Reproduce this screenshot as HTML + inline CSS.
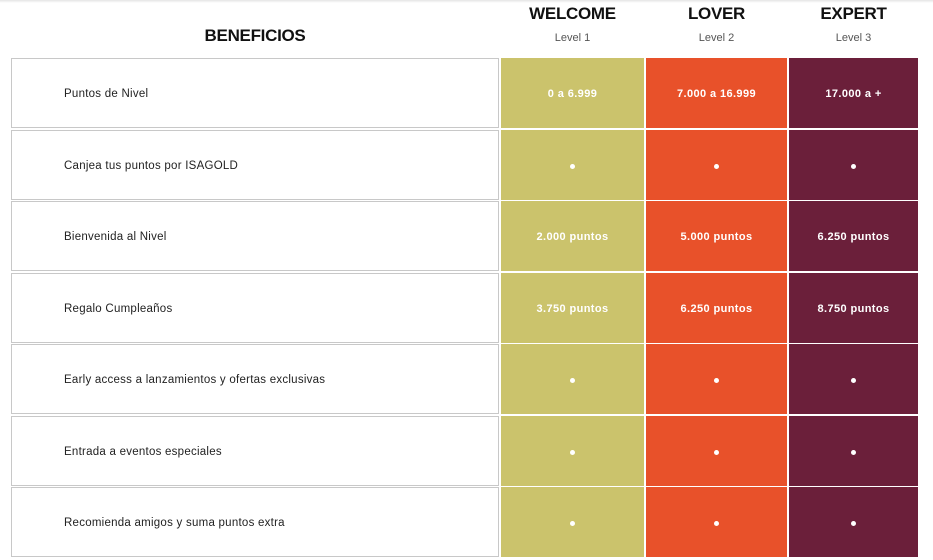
<!DOCTYPE html>
<html><head><meta charset="utf-8"><style>
body{margin:0;width:933px;height:560px;background:#fff;font-family:"Liberation Sans",sans-serif;position:relative;overflow:hidden}
.a{position:absolute}
.top{left:0;top:0;width:933px;height:3px;background:linear-gradient(#e4e4e4,#fff)}
.h{font-weight:bold;font-size:17px;color:#111;text-align:center;letter-spacing:-0.3px}
.lv{font-size:11px;color:#555;text-align:center}
.l{left:11px;width:488px;border:1px solid #c8c8c8;background:#fff;display:flex;align-items:center;font-size:11.5px;letter-spacing:0.25px;color:#222;box-sizing:border-box;padding-left:52px;padding-top:2px}
.c{display:flex;align-items:center;justify-content:center;color:#fff;font-weight:bold;font-size:11px;letter-spacing:.4px;box-sizing:border-box;padding-top:2px}
.w{left:501px;width:143px;background:#cbc36c}
.o{left:646px;width:141px;background:#e8512a}
.e{left:789px;width:129px;background:#6b1f3a}
.d{width:5px;height:5px;border-radius:50%;background:#fff}
</style></head><body>
<div class="a top"></div>
<div class="a h" style="left:150px;width:210px;top:26px">BENEFICIOS</div>
<div class="a h" style="left:501px;width:143px;top:4px">WELCOME</div>
<div class="a h" style="left:646px;width:141px;top:4px">LOVER</div>
<div class="a h" style="left:789px;width:129px;top:4px">EXPERT</div>
<div class="a lv" style="left:501px;width:143px;top:32px">Level 1</div>
<div class="a lv" style="left:646px;width:141px;top:32px">Level 2</div>
<div class="a lv" style="left:789px;width:129px;top:32px">Level 3</div>

<div class="a l" style="top:58px;height:70px">Puntos de Nivel</div>
<div class="a c w" style="top:58px;height:70px">0 a 6.999</div>
<div class="a c o" style="top:58px;height:70px">7.000 a 16.999</div>
<div class="a c e" style="top:58px;height:70px">17.000 a +</div>

<div class="a l" style="top:130px;height:70px">Canjea tus puntos por ISAGOLD</div>
<div class="a c w" style="top:130px;height:70px"><div class="d"></div></div>
<div class="a c o" style="top:130px;height:70px"><div class="d"></div></div>
<div class="a c e" style="top:130px;height:70px"><div class="d"></div></div>

<div class="a l" style="top:201px;height:70px">Bienvenida al Nivel</div>
<div class="a c w" style="top:201px;height:70px">2.000 puntos</div>
<div class="a c o" style="top:201px;height:70px">5.000 puntos</div>
<div class="a c e" style="top:201px;height:70px">6.250 puntos</div>

<div class="a l" style="top:273px;height:70px">Regalo Cumpleaños</div>
<div class="a c w" style="top:273px;height:70px">3.750 puntos</div>
<div class="a c o" style="top:273px;height:70px">6.250 puntos</div>
<div class="a c e" style="top:273px;height:70px">8.750 puntos</div>

<div class="a l" style="top:344px;height:70px">Early access a lanzamientos y ofertas exclusivas</div>
<div class="a c w" style="top:344px;height:70px"><div class="d"></div></div>
<div class="a c o" style="top:344px;height:70px"><div class="d"></div></div>
<div class="a c e" style="top:344px;height:70px"><div class="d"></div></div>

<div class="a l" style="top:416px;height:70px">Entrada a eventos especiales</div>
<div class="a c w" style="top:416px;height:70px"><div class="d"></div></div>
<div class="a c o" style="top:416px;height:70px"><div class="d"></div></div>
<div class="a c e" style="top:416px;height:70px"><div class="d"></div></div>

<div class="a l" style="top:487px;height:70px">Recomienda amigos y suma puntos extra</div>
<div class="a c w" style="top:487px;height:70px"><div class="d"></div></div>
<div class="a c o" style="top:487px;height:70px"><div class="d"></div></div>
<div class="a c e" style="top:487px;height:70px"><div class="d"></div></div>
</body></html>
